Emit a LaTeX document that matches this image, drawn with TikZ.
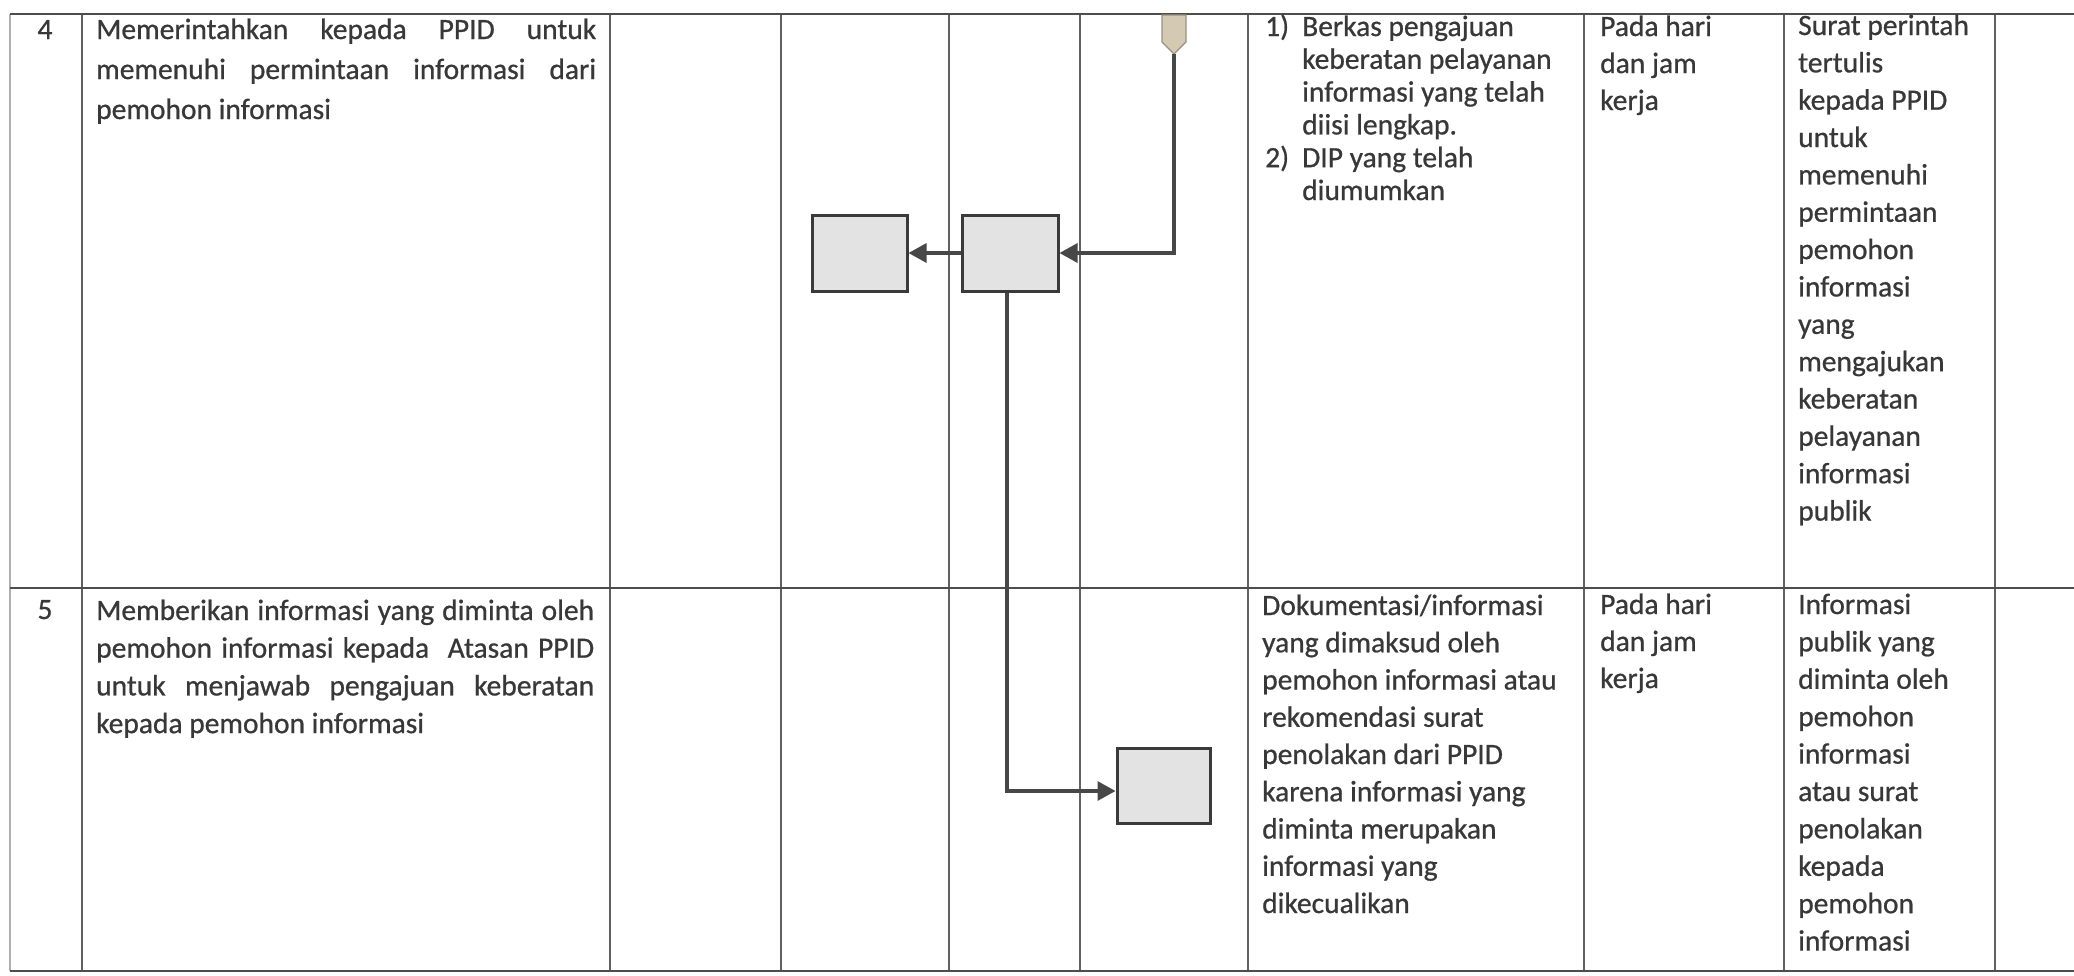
\documentclass[tikz,border=0pt]{standalone}
\usepackage{fontspec}
\setmainfont{Carlito}[BoldFont=Carlito, BoldFeatures={FakeBold=0.7}]
\usetikzlibrary{arrows.meta}
\definecolor{txtc}{HTML}{383838}
\definecolor{gridc}{HTML}{606060}
\definecolor{boxfill}{HTML}{E3E3E3}
\definecolor{boxline}{HTML}{3A3A3A}
\definecolor{connc}{HTML}{474747}
\definecolor{tagfill}{HTML}{D4CAB4}
\definecolor{tagline}{HTML}{9A9080}
\begin{document}
\begin{tikzpicture}[x=1pt,y=-1pt,
  vline/.style={draw=gridc, line width=1.7pt},
  hline/.style={draw=gridc!80!black, line width=2.2pt},
  faint/.style={draw=gridc!50, line width=1.2pt},
  txt/.style={anchor=base west, inner sep=0pt, text=txtc, font=\fontsize{29.5}{36}\selectfont\bfseries},
  num/.style={anchor=base, inner sep=0pt, text=txtc, font=\fontsize{29.5}{36}\selectfont\bfseries},
  procbox/.style={draw=boxline, fill=boxfill, line width=3pt, inner sep=0pt},
  flow/.style={draw=connc, line width=3.2pt, -{Triangle[length=18pt,width=19pt]}},
]
\fill[white] (0,0) rectangle (2074,975);
\useasboundingbox (0,0) rectangle (2074,975);

% table grid
\draw[faint] (10,14) -- (10,971);
\foreach \x in {82,610,781,949,1080,1248,1584,1784,1995}
  \draw[vline] (\x,14) -- (\x,971);
\draw[hline] (10,14) -- (2074,14);
\draw[hline] (10,588) -- (2074,588);
\draw[hline] (10,971) -- (2074,971);

% row numbers
\node[num] (n4) at (45,39) {4};
\node[num] (n5) at (45,619) {5};

% row 4 activity
\foreach \t [count=\i] in {{\makebox[500pt][s]{Memerintahkan kepada PPID untuk}},{\makebox[500pt][s]{memenuhi permintaan informasi dari}},{pemohon informasi}}
  \node[txt] (ra\i) at (96,{39+40*(\i-1)}) {\t};

% row 5 activity
\foreach \t [count=\i] in {{\makebox[498pt][s]{Memberikan informasi yang diminta oleh}},{\makebox[498pt][s]{pemohon informasi kepada\ \ Atasan PPID}},{\makebox[498pt][s]{untuk menjawab pengajuan keberatan}},{kepada pemohon informasi}}
  \node[txt] (rb\i) at (96,{620+37.7*(\i-1)}) {\t};

% row 4 requirements
\node[txt] (k1) at (1265,36) {1)};
\node[txt] (k2) at (1265,{36+4*32.8}) {2)};
\foreach \t [count=\i] in {{Berkas pengajuan},{keberatan pelayanan},{informasi yang telah},{diisi lengkap.},{DIP yang telah},{diumumkan}}
  \node[txt] (kl\i) at (1302,{36+32.8*(\i-1)}) {\t};

% row 5 requirements
\foreach \t [count=\i] in {{Dokumentasi/informasi},{yang dimaksud oleh},{pemohon informasi atau},{rekomendasi surat},{penolakan dari PPID},{karena informasi yang},{diminta merupakan},{informasi yang},{dikecualikan}}
  \node[txt] (dl\i) at (1262,{615+37.25*(\i-1)}) {\t};

% time
\foreach \t [count=\i] in {{Pada hari},{dan jam},{kerja}}
  \node[txt] (wa\i) at (1600,{36+37*(\i-1)}) {\t};
\foreach \t [count=\i] in {{Pada hari},{dan jam},{kerja}}
  \node[txt] (wb\i) at (1600,{614+37*(\i-1)}) {\t};

% output row 4
\foreach \t [count=\i] in {{Surat perintah},{tertulis},{kepada PPID},{untuk},{memenuhi},{permintaan},{pemohon},{informasi},{yang},{mengajukan},{keberatan},{pelayanan},{informasi},{publik}}
  \node[txt] (oa\i) at (1798,{35+37.35*(\i-1)}) {\t};

% output row 5
\foreach \t [count=\i] in {{Informasi},{publik yang},{diminta oleh},{pemohon},{informasi},{atau surat},{penolakan},{kepada},{pemohon},{informasi}}
  \node[txt] (ob\i) at (1798,{614+37.4*(\i-1)}) {\t};

% flow shapes
\draw[draw=tagline, fill=tagfill, line width=1.2pt] (1162,15) -- (1186,15) -- (1186,42) -- (1174,54) -- (1162,42) -- cycle;
\coordinate (start) at (1174,54);
\node[procbox, minimum width=95pt, minimum height=76pt] (b1) at (859.5,253) {};
\node[procbox, minimum width=96pt, minimum height=76pt] (b2) at (1010,253) {};
\node[procbox, minimum width=93pt, minimum height=75pt] (b3) at (1163.5,785.5) {};

% connectors
\draw[flow] (start) |- (b2.east);
\draw[flow] (b2.west) -- (b1.east);
\draw[flow] ([xshift=-3pt]b2.south) |- ([yshift=-5.5pt]b3.west);
\end{tikzpicture}
\end{document}
